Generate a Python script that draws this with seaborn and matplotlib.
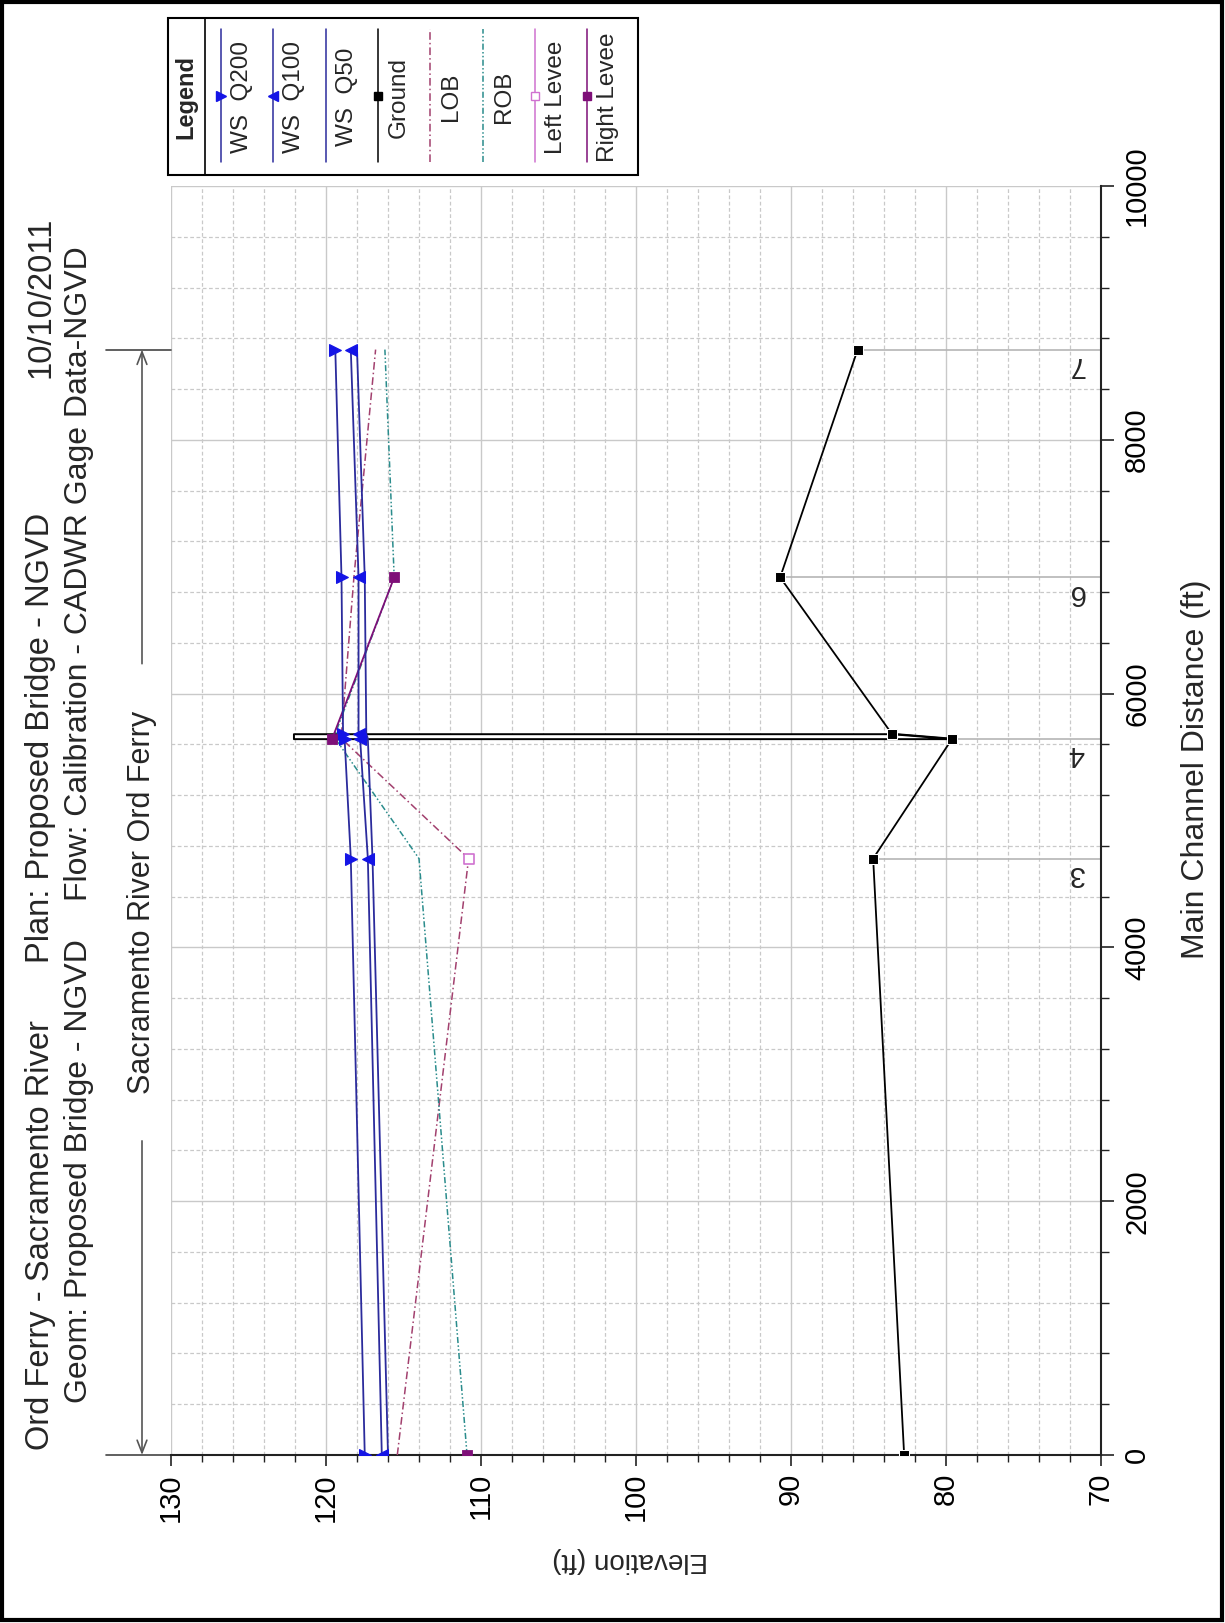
import matplotlib
matplotlib.use("Agg")
import matplotlib.pyplot as plt
import matplotlib.transforms as mtransforms
from matplotlib.lines import Line2D
from matplotlib.patches import Rectangle
from matplotlib.ticker import MultipleLocator
import numpy as np
import seaborn as sns

# ---- profile data (main channel distance in ft, elevations in ft) ----
stations = [0, 4700, 5645, 5684, 6916, 8711]
ground = [82.7, 84.7, 79.6, 83.5, 90.7, 85.7]
ws_q200 = [117.5, 118.4, 118.8, 118.9, 119.0, 119.4]
ws_q100 = [116.4, 117.3, 117.8, 117.9, 117.9, 118.4]
ws_q50 = [116.0, 117.0, 117.3, 117.4, 117.5, 118.0]
lob = [115.4, 110.8, 119.0, 119.0, 118.2, 116.8]
rob = [110.9, 114.0, 119.4, 119.4, 115.6, 116.2]

left_levee_sta = [4700]
left_levee = [110.8]
right_levee_sta = [0, 5645, 6916]
right_levee = [110.9, 119.6, 115.6]

bridge_sta = [5645, 5684]
bridge_ground = [79.6, 83.5]
bridge_deck = 122.1

xs_labels = ["3", "4", "6", "7"]
xs_sta = [4700, 5645, 6916, 8711]
xs_ground = [84.7, 79.6, 90.7, 85.7]

reach_name = "Sacramento River Ord Ferry"
reach_sta = [0, 8711]

legend_names = ["WS  Q200", "WS  Q100", "WS  Q50", "Ground", "LOB", "ROB",
                "Left Levee", "Right Levee"]

# ---- styles ----
WS_LINE = "#2b2b9c"
WS_MARK = "#1414e6"
LOB_C = "#a2406e"
ROB_C = "#2a8c8c"
LLEV_C = "#d072d0"
RLEV_C = "#7e0f78"
GRID_C = "#c9c9c9"

sns.set_style("white")
plt.rcParams["font.family"] = ["Liberation Sans", "DejaVu Sans"]

W, H = 1225, 1623
fig = plt.figure(figsize=(W / 100, H / 100), dpi=100)


def fx(px):
    return px / W


def fy(py):
    return 1 - py / H


ax = fig.add_axes([fx(171), fy(1455), fx(1101) - fx(171), fy(186) - fy(1455)])

# bridge deck drawn as a thin box from the ground up to the deck
ax.fill_betweenx(bridge_sta, bridge_ground, [bridge_deck] * len(bridge_sta),
                 facecolor="white", edgecolor="black", lw=1.4, zorder=2)

# cross section lines and labels
ax.hlines(xs_sta, xs_ground, 70, color="#b5b5b5", lw=1.2, zorder=1.5)
for lab, s in zip(xs_labels, xs_sta):
    ax.text(71.6, s - 120, lab, rotation=180, ha="center", va="center",
            fontsize=21, zorder=3)

line_kw = dict(sort=False, estimator=None, ax=ax, legend=False)
sns.lineplot(x=lob, y=stations, color=LOB_C, lw=1.1, linestyle=(0, (5, 2, 1, 2)),
             zorder=3, **line_kw)
sns.lineplot(x=rob, y=stations, color=ROB_C, lw=1.1, linestyle=(0, (4, 1.5, 1, 1.5, 1, 1.5)),
             zorder=3, **line_kw)
sns.lineplot(x=right_levee[1:], y=right_levee_sta[1:], color=RLEV_C, lw=1.3,
             zorder=3, **line_kw)
sns.lineplot(x=ws_q50, y=stations, color=WS_LINE, lw=1.3, zorder=4, **line_kw)
sns.lineplot(x=ws_q100, y=stations, color=WS_LINE, lw=1.3, marker="<",
             markersize=8, markerfacecolor=WS_MARK, markeredgecolor=WS_MARK,
             zorder=4, **line_kw)
sns.lineplot(x=ws_q200, y=stations, color=WS_LINE, lw=1.3, marker=">",
             markersize=8, markerfacecolor=WS_MARK, markeredgecolor=WS_MARK,
             zorder=4, **line_kw)
sns.lineplot(x=ground, y=stations, color="black", lw=1.3, marker="s",
             markersize=6.5, zorder=5, **line_kw)
sns.scatterplot(x=left_levee, y=left_levee_sta, marker="s", s=45,
                facecolor="white", edgecolor=LLEV_C, linewidth=1.2, ax=ax, zorder=6)
sns.scatterplot(x=right_levee, y=right_levee_sta, marker="s", s=55,
                color=RLEV_C, edgecolor=RLEV_C, ax=ax, zorder=6)

# axes, ticks, grid
ax.set_xlim(130, 70)
ax.set_ylim(0, 10000)
ax.xaxis.set_major_locator(MultipleLocator(10))
ax.xaxis.set_minor_locator(MultipleLocator(2))
ax.yaxis.set_major_locator(MultipleLocator(2000))
ax.yaxis.set_minor_locator(MultipleLocator(400))
ax.yaxis.tick_right()
ax.set_xlabel("")
ax.set_ylabel("")
ax.grid(which="major", color=GRID_C, lw=1.0, ls="-")
ax.grid(which="minor", color=GRID_C, lw=0.9, ls=(0, (3, 2)))
ax.set_axisbelow(True)
for side in ["left", "top"]:
    ax.spines[side].set_visible(False)
for side in ["bottom", "right"]:
    ax.spines[side].set_color("#222222")
    ax.spines[side].set_linewidth(1.5)
ax.tick_params(axis="x", which="major", direction="out", length=8, width=1.2,
               labelsize=21, labelrotation=90, pad=5, bottom=True, colors="#222222")
ax.tick_params(axis="x", which="minor", direction="out", length=5, width=1.0, bottom=True,
               colors="#222222")
ax.tick_params(axis="y", which="major", direction="out", length=9, width=1.2,
               labelsize=21, labelrotation=90, pad=7, right=True, left=False,
               labelright=True, labelleft=False, colors="#222222")
ax.tick_params(axis="y", which="minor", direction="out", length=6, width=1.0,
               right=True, left=False, colors="#222222")
for t in ax.get_yticklabels():
    t.set_va("center")
for t in ax.get_xticklabels() + ax.get_yticklabels():
    t.set_color("black")

# reach extent arrow outside the plot
trans = mtransforms.blended_transform_factory(ax.transAxes, ax.transData)
rx = (142 - 171) / 930
mid = np.mean(reach_sta)
gap = 1880
arrow = dict(arrowstyle="->,head_length=0.9,head_width=0.35", color="#555555",
             lw=1.2, shrinkA=0, shrinkB=0)
ax.annotate("", xy=(rx, reach_sta[1]), xytext=(rx, mid + gap), xycoords=trans,
            textcoords=trans, arrowprops=arrow, annotation_clip=False)
ax.annotate("", xy=(rx, reach_sta[0]), xytext=(rx, mid - gap), xycoords=trans,
            textcoords=trans, arrowprops=arrow, annotation_clip=False)
for s in reach_sta:
    ax.plot([-0.07, 0.0], [s, s], transform=trans, color="#444444", lw=1.2,
            clip_on=False)
ax.text(rx, mid, reach_name, transform=trans, rotation=90, ha="center",
        va="center", fontsize=22)

# titles
fig.text(fx(41), fy(1450), "Ord Ferry - Sacramento River", rotation=90,
         ha="center", va="bottom", fontsize=23.5)
fig.text(fx(41), fy(963), "Plan: Proposed Bridge - NGVD", rotation=90,
         ha="center", va="bottom", fontsize=23.5)
fig.text(fx(41), fy(378), "10/10/2011", rotation=90, ha="center", va="bottom",
         fontsize=23.5)
fig.text(fx(79), fy(1403), "Geom: Proposed Bridge - NGVD", rotation=90,
         ha="center", va="bottom", fontsize=23)
fig.text(fx(79), fy(901), "Flow: Calibration - CADWR Gage Data-NGVD", rotation=90,
         ha="center", va="bottom", fontsize=23)

# axis titles
fig.text(fx(630), fy(1560), "Elevation (ft)", rotation=180, ha="center",
         va="center", fontsize=20)
fig.text(fx(1196), fy(769), "Main Channel Distance (ft)", rotation=90,
         ha="center", va="center", fontsize=23)

# legend drawn as a rotated box along the top
fig.add_artist(Rectangle((fx(168), fy(175)), fx(638) - fx(168), fy(18) - fy(175),
                         transform=fig.transFigure, fill=False, ec="black", lw=1.5))
fig.add_artist(Line2D([fx(205), fx(205)], [fy(18), fy(175)], color="black", lw=1.2))
fig.text(fx(186), fy(97), "Legend", rotation=90, ha="center", va="center",
         fontsize=17, fontweight="bold")
leg_styles = [
    dict(color=WS_LINE, ls="-", marker=">", mfc=WS_MARK, mec=WS_MARK, ms=7),
    dict(color=WS_LINE, ls="-", marker="<", mfc=WS_MARK, mec=WS_MARK, ms=7),
    dict(color=WS_LINE, ls="-", marker=None),
    dict(color="black", ls="-", marker="s", mfc="black", mec="black", ms=6),
    dict(color=LOB_C, ls=(0, (5, 2, 1, 2)), marker=None),
    dict(color=ROB_C, ls=(0, (4, 1.5, 1, 1.5, 1, 1.5)), marker=None),
    dict(color=LLEV_C, ls="-", marker="s", mfc="white", mec=LLEV_C, ms=6),
    dict(color=RLEV_C, ls="-", marker="s", mfc=RLEV_C, mec=RLEV_C, ms=6),
]
for i, (name, st) in enumerate(zip(legend_names, leg_styles)):
    lx = 221 + i * 52.3
    fig.add_artist(Line2D([fx(lx), fx(lx)], [fy(162), fy(29)], lw=1.1, **{
        k: v for k, v in st.items() if k not in ("marker", "mfc", "mec", "ms")}))
    if st["marker"]:
        fig.add_artist(Line2D([fx(lx)], [fy(96)], ls="none", marker=st["marker"],
                              mfc=st["mfc"], mec=st["mec"], ms=st["ms"]))
    fig.text(fx(lx + 21), fy(97), name, rotation=90, ha="center", va="center",
             fontsize=17.5)

# outer frame
fig.add_artist(Rectangle((fx(2), fy(1620)), fx(1222) - fx(2), fy(2) - fy(1620),
                         transform=fig.transFigure, fill=False, ec="black", lw=3))

fig.savefig("out.png", dpi=100)
